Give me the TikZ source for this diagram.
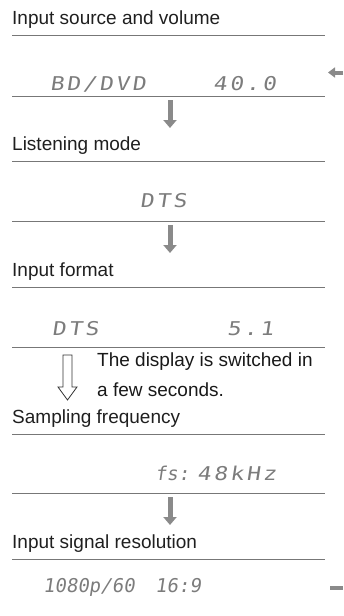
\documentclass[tikz,border=0pt]{standalone}
\usepackage{fontspec}
\setmainfont{Liberation Sans}
\newfontfamily\lcdwidefont[FakeSlant=0.15,FakeStretch=1.2,LetterSpace=14]{DejaVu Sans Mono}
\newfontfamily\lcdnarrowfont[FakeSlant=0.15]{DejaVu Sans Mono}
\usetikzlibrary{arrows.meta}
\definecolor{rulegray}{HTML}{777777}
\definecolor{arrowgray}{HTML}{8A8A8A}
\definecolor{lcdgray}{HTML}{7C7C7C}

\begin{document}
\begin{tikzpicture}[x=1pt,y=-1pt,
  heading/.style={anchor=base west,inner sep=0pt,font=\fontsize{19}{22}\selectfont,text=black!88},
  lcd/.style={anchor=base west,inner sep=0pt,font=\lcdwidefont\fontsize{19}{22}\selectfont,text=lcdgray},
  lcdnarrow/.style={lcd,font=\lcdnarrowfont\fontsize{19}{22}\selectfont},
  flowarrow/.style={draw=arrowgray,line width=5pt,-{Triangle[length=8pt,width=13pt]}}]
  \useasboundingbox (0,0) rectangle (343,616);

  % Titres
  \node[heading] (h1) at (12,24) {Input source and volume};
  \node[heading] (h2) at (12,150) {Listening mode};
  \node[heading] (h3) at (12,276) {Input format};
  \node[heading] (h4) at (12,423) {Sampling frequency};
  \node[heading] (h5) at (12,548) {Input signal resolution};

  % Affichage
  \node[lcd] (d1a) at (50,90) {BD/DVD};
  \node[lcd] (d1b) at (213,90) {40.0};
  \node[lcd] (d2) at (140,207) {DTS};
  \node[lcd] (d3a) at (52,335) {DTS};
  \node[lcd] (d3b) at (227,335) {5.1};
  \node[lcdnarrow] (d4a) at (155,480) {fs:};
  \node[lcd] (d4b) at (197,480) {48kHz};
  \node[lcdnarrow] (d5a) at (43,592) {1080p/60};
  \node[lcdnarrow] (d5b) at (155,592) {16:9};

  % Lignes
  \foreach \y in {35,96,161,221,287,347,434,493,559}
    \draw[rulegray,line width=1pt] (12,\y) -- (325,\y);

  % Fleches
  \foreach \a/\b in {100/128, 225/253, 497/525}
    \draw[flowarrow] (170,\a) -- (170,\b);

  % Fleche creuse
  \draw[black!80,line width=0.8pt] (63,355) -- (72,355) -- (72,387) -- (77,387)
    -- (67.5,400) -- (58,387) -- (63,387) -- cycle;
  \node[heading,text=black!90] (note1) at (97,366) {The display is switched in};
  \node[heading,text=black!90] (note2) at (97,396) {a few seconds.};

  % Retour
  \coordinate (loopin) at (343,72.5);
  \coordinate (loopend) at (328,72.5);
  \coordinate (loopout) at (330,588);
  \coordinate (loopedge) at (343,588);
  \draw[draw=arrowgray,line width=4pt,-{Triangle[length=7pt,width=10pt]}] (loopin) -- (loopend);
  \draw[arrowgray,line width=4pt] (loopout) -- (loopedge);
\end{tikzpicture}
\end{document}
